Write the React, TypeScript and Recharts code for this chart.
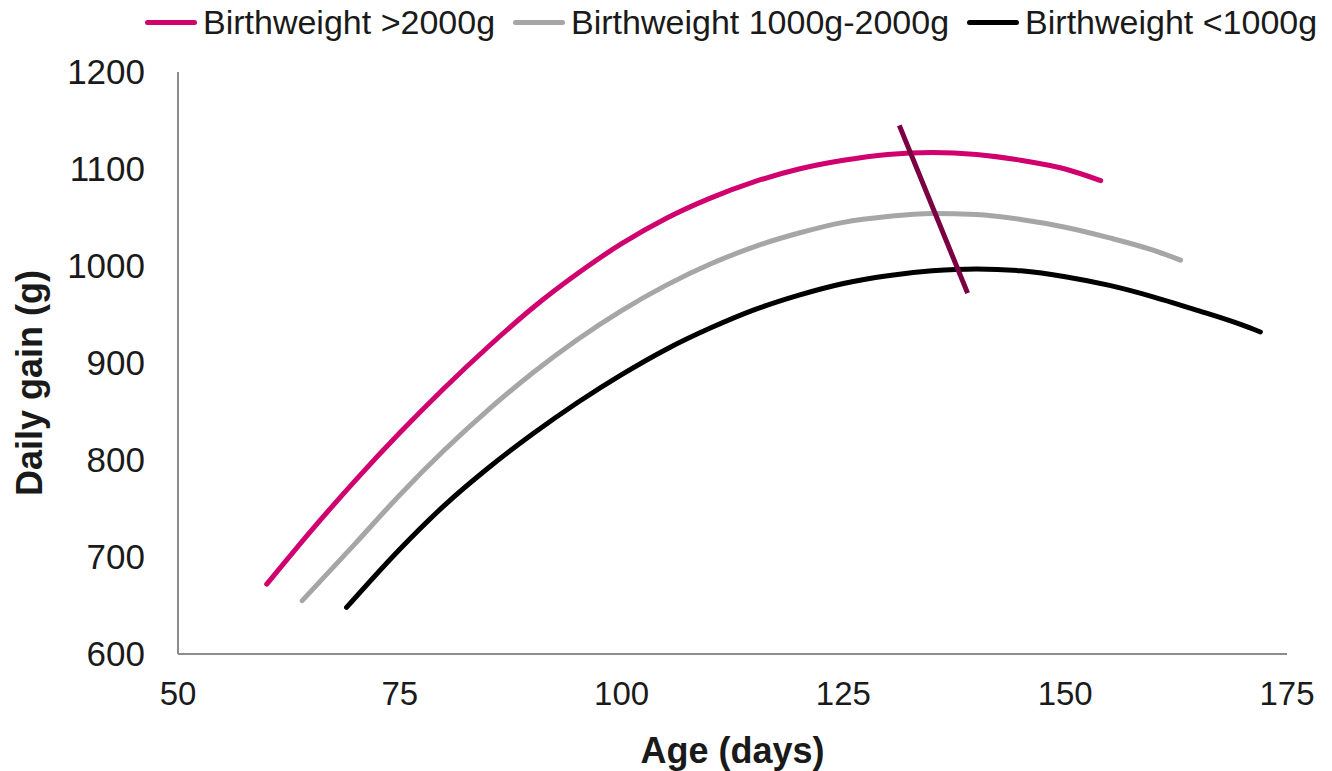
import * as React from 'react';
import { LineChart, Line, XAxis, YAxis, Label } from 'recharts';

const ageTicks = [50, 75, 100, 125, 150, 175];
const gainTicks = [600, 700, 800, 900, 1000, 1100, 1200];

// birthweight > 2000g
const heavyAge = [60, 65, 70, 75, 80, 85, 90, 95, 100, 105, 110, 115, 120, 125, 130, 135, 140, 145, 150, 154];
const heavyGain = [672, 727, 779, 828, 874, 917, 957, 992, 1023, 1049, 1070, 1087, 1100, 1109, 1115, 1117, 1115, 1109, 1100, 1088];

// birthweight 1000g-2000g
const midAge = [64, 70, 75, 80, 85, 90, 95, 100, 105, 110, 115, 120, 125, 130, 135, 140, 145, 150, 155, 160, 163];
const midGain = [655, 714, 764, 810, 852, 890, 924, 954, 980, 1002, 1020, 1034, 1045, 1051, 1054, 1053, 1048, 1040, 1029, 1016, 1006];

// birthweight < 1000g
const lightAge = [69, 75, 80, 85, 90, 95, 100, 105, 110, 115, 120, 125, 130, 135, 140, 145, 150, 155, 160, 165, 170, 172];
const lightGain = [648, 708, 753, 792, 827, 859, 888, 914, 936, 955, 970, 982, 990, 995, 997, 995, 989, 980, 968, 954, 939, 932];

// marker stroke across the peaks
const markerAge = [131.3, 139];
const markerGain = [1145, 972];

const toPoints = (ages: number[], gains: number[]) =>
  ages.map((age, i) => ({ age, gain: gains[i] }));

const series = [
  { name: 'Birthweight >2000g', color: '#d0006f', points: toPoints(heavyAge, heavyGain) },
  { name: 'Birthweight 1000g-2000g', color: '#a6a6a6', points: toPoints(midAge, midGain) },
  { name: 'Birthweight <1000g', color: '#000000', points: toPoints(lightAge, lightGain) },
];

const font = '"Liberation Sans", Arial, sans-serif';
const textColor = '#1a1a1a';
const axisColor = '#8c8c8c';

function YTitle(): React.ReactElement {
  return (
    <text
      x={42}
      y={383}
      transform="rotate(-90 42 383)"
      textAnchor="middle"
      fontFamily={font}
      fontSize={36}
      fontWeight="bold"
      fill={textColor}
    >
      Daily gain (g)
    </text>
  );
}

export default function App(): React.ReactElement {
  return (
    <div style={{ position: 'absolute', left: 0, top: 0, width: 1332, height: 771, background: '#fff' }}>
      <div
        style={{
          position: 'absolute',
          left: 145,
          top: 0,
          height: 44,
          display: 'flex',
          alignItems: 'center',
          gap: 18,
          fontFamily: font,
          fontSize: 34,
          color: textColor,
          whiteSpace: 'nowrap',
        }}
      >
        {series.map((s) => (
          <div key={s.name} style={{ display: 'flex', alignItems: 'center' }}>
            <span
              style={{ display: 'inline-block', width: 52, height: 5, borderRadius: 3, background: s.color, marginRight: 6 }}
            />
            <span>{s.name}</span>
          </div>
        ))}
      </div>
      <LineChart width={1332} height={771} margin={{ top: 72, right: 45, bottom: 0, left: 0 }}>
        <XAxis
          type="number"
          dataKey="age"
          domain={[50, 175]}
          ticks={ageTicks}
          height={117}
          tickLine={false}
          tickMargin={22}
          axisLine={{ stroke: axisColor, strokeWidth: 2 }}
          tick={{ fontFamily: font, fontSize: 33, fill: textColor }}
        >
          <Label
            value="Age (days)"
            position="insideBottom"
            offset={8}
            style={{ fontFamily: font, fontSize: 36, fontWeight: 'bold', fill: textColor }}
          />
        </XAxis>
        <YAxis
          type="number"
          domain={[600, 1200]}
          ticks={gainTicks}
          width={178}
          tickLine={false}
          tickMargin={27}
          axisLine={{ stroke: axisColor, strokeWidth: 2 }}
          tick={{ fontFamily: font, fontSize: 35, fill: textColor }}
        >
          <Label content={() => <YTitle />} />
        </YAxis>
        {series.map((s) => (
          <Line
            key={s.name}
            data={s.points}
            dataKey="gain"
            name={s.name}
            type="monotone"
            stroke={s.color}
            strokeWidth={5}
            strokeLinecap="round"
            dot={false}
            activeDot={false}
            isAnimationActive={false}
          />
        ))}
        <Line
          data={toPoints(markerAge, markerGain)}
          dataKey="gain"
          type="linear"
          stroke="#7a0042"
          strokeWidth={5}
          dot={false}
          activeDot={false}
          isAnimationActive={false}
        />
      </LineChart>
    </div>
  );
}
